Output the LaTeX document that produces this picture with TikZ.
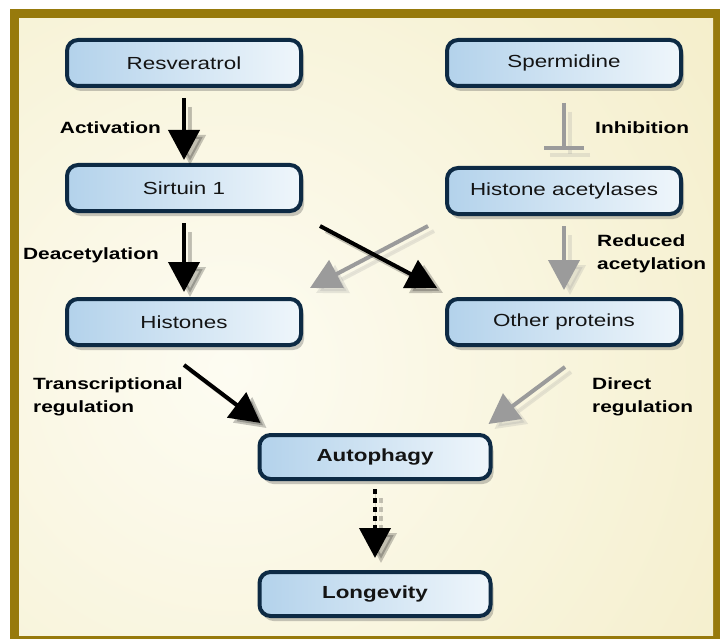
\documentclass[tikz,border=0pt]{standalone}
\usepackage{fontspec}
\setmainfont{Liberation Sans}
\newfontfamily\widefont[FakeStretch=1.28]{Liberation Sans}
\usetikzlibrary{arrows.meta,shadows,calc}
\definecolor{frame}{HTML}{977A0C}
\definecolor{navy}{HTML}{0D2A44}
\definecolor{boxL}{HTML}{B3D2EB}
\definecolor{boxR}{HTML}{EFF6FB}
\definecolor{bgIn}{HTML}{FDFCF2}
\definecolor{bgOut}{HTML}{EEE4AE}
\definecolor{grayarrow}{HTML}{9B9B9B}
\tikzset{
  box/.style={draw=navy, line width=4pt, rounded corners=11pt,
    left color=boxL, right color=boxR, minimum width=234pt, minimum height=46pt,
    font=\widefont\fontsize{17.5}{20}\selectfont, text=black!92,
    drop shadow={shadow xshift=3pt, shadow yshift=-5pt, opacity=.3, fill=black!70}},
  boldbox/.style={box, minimum width=231pt, minimum height=44pt,
    font=\widefont\bfseries\fontsize{17.5}{20}\selectfont},
  lbl/.style={font=\widefont\bfseries\fontsize{16.3}{23}\selectfont, text=black, inner sep=0pt},
  blk/.style={draw=black, fill=black, line width=4pt, -{Triangle[width=31pt,length=30pt]}},
  gry/.style={draw=grayarrow, fill=grayarrow, line width=4pt, -{Triangle[width=31pt,length=30pt]}},
  shd/.style={draw opacity=.22, fill opacity=.22, transform canvas={xshift=6pt,yshift=-5pt}},
}
\begin{document}
\begin{tikzpicture}[x=1pt,y=-1pt]
\useasboundingbox (0,0) rectangle (725,639);
\fill[white] (0,0) rectangle (725,639);
\fill[frame] (10,9) rectangle (720,639);
\begin{scope}
  \clip (19,19) rectangle (713,635);
  \shade[inner color=bgIn, outer color=bgOut] (230,370) circle (1050);
\end{scope}

\node[box] (res) at (184,63) {Resveratrol};
\node[box] (spe) at (564,63) {Spermidine};
\node[box] (sirt) at (184,188) {Sirtuin 1};
\node[box] (hac) at (564,191) {Histone acetylases};
\node[box] (his) at (184,322) {Histones};
\node[box] (oth) at (564,322) {Other proteins};
\node[boldbox] (aut) at (375,457) {Autophagy};
\node[boldbox] (lon) at (375,594) {Longevity};

% Resveratrol -> Sirtuin 1
\draw[blk,shd,shorten <=14pt,shorten >=3pt] (res) -- (sirt);
\draw[blk,shorten <=10pt,shorten >=3pt] (res) -- (sirt);
% Spermidine -| Histone acetylases
\draw[draw=grayarrow,line width=4pt,shd,shorten <=19pt,shorten >=14pt,-{Bar[width=40pt]}] (spe) -- (hac);
\draw[draw=grayarrow,line width=4pt,shorten <=15pt,shorten >=16pt,-{Bar[width=40pt]}] (spe) -- (hac);
% Sirtuin 1 -> Histones
\draw[blk,shd,shorten <=14pt,shorten >=5pt] (sirt) -- (his);
\draw[blk,shorten <=10pt,shorten >=5pt] (sirt) -- (his);
% Histone acetylases -> Other proteins
\draw[gry,shd,shorten <=14pt,shorten >=7pt] (hac) -- (oth);
\draw[gry,shorten <=10pt,shorten >=7pt] (hac) -- (oth);
% Histone acetylases -> Histones
\draw[gry,shd] ($(hac.south west)+(-17,10)$) -- ($(his.north east)+(7,-9)$);
\draw[gry] ($(hac.south west)+(-17,10)$) -- ($(his.north east)+(7,-9)$);
% Sirtuin 1 -> Other proteins
\draw[blk,shd] ($(sirt.south east)+(17,13)$) -- ($(oth.north west)+(-8,-9)$);
\draw[blk] ($(sirt.south east)+(17,13)$) -- ($(oth.north west)+(-8,-9)$);
% Histones -> Autophagy
\draw[blk,shd] ($(his.south)+(0,18)$) -- ($(aut.north west)+(3,-10)$);
\draw[blk] ($(his.south)+(0,18)$) -- ($(aut.north west)+(3,-10)$);
% Other proteins -> Autophagy
\draw[gry,shd] ($(oth.south)+(1,20)$) -- ($(aut.north east)+(-4,-9)$);
\draw[gry] ($(oth.south)+(1,20)$) -- ($(aut.north east)+(-4,-9)$);
% Autophagy -> Longevity (dotted)
\draw[blk,shd,dash pattern=on 5pt off 4pt,shorten <=12pt,shorten >=12pt] (aut) -- (lon);
\draw[blk,dash pattern=on 5pt off 4pt,shorten <=8pt,shorten >=12pt] (aut) -- (lon);

% labels
\node[lbl,anchor=east] (l1) at (161,128) {Activation};
\node[lbl,anchor=west] (l2) at (595,128) {Inhibition};
\node[lbl,anchor=east] (l3) at (159,255) {Deacetylation};
\node[lbl,anchor=west,align=left] (l4) at (597,254) {Reduced\\acetylation};
\node[lbl,anchor=west,align=left] (l5) at (33,397) {Transcriptional\\regulation};
\node[lbl,anchor=west,align=left] (l6) at (592,397) {Direct\\regulation};
\end{tikzpicture}
\end{document}
